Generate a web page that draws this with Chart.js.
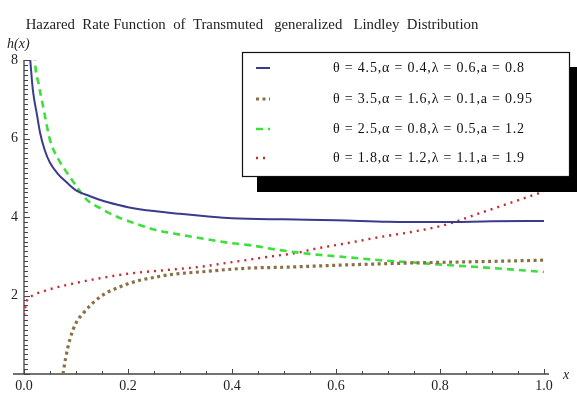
<!DOCTYPE html>
<html>
<head>
<meta charset="utf-8">
<script src="https://cdn.jsdelivr.net/npm/chart.js@4"></script>
<style>
html,body{margin:0;padding:0;background:#fff;}
canvas{display:block;}
</style>
</head>
<body>
<canvas id="c" width="577" height="394"></canvas>
<script>
// ---- data ----
const chartTitle = "Hazared  Rate Function  of  Transmuted   generalized   Lindley  Distribution";
const yAxisLabel = "h(x)";
const xAxisLabel = "x";
const seriesLabels = [
  "\u03B8 = 4.5,\u03B1 = 0.4,\u03BB = 0.6,a = 0.8",
  "\u03B8 = 3.5,\u03B1 = 1.6,\u03BB = 0.1,a = 0.95",
  "\u03B8 = 2.5,\u03B1 = 0.8,\u03BB = 0.5,a = 1.2",
  "\u03B8 = 1.8,\u03B1 = 1.2,\u03BB = 1.1,a = 1.9"
];
const xTicks = [0, 0.2, 0.4, 0.6, 0.8, 1.0];
const yTicks = [2, 4, 6, 8];

const s1X = [0.005,0.012,0.017,0.025,0.031,0.04,0.05,0.065,0.083,0.1,0.127,0.15,0.18,0.2,0.25,0.3,0.35,0.4,0.5,0.6,0.7,0.8,0.9,1.0];
const s1Y = [9.0,8.0,7.24,6.6,6.14,5.7,5.38,5.1,4.87,4.68,4.53,4.42,4.31,4.25,4.15,4.08,4.02,3.97,3.94,3.92,3.88,3.87,3.89,3.9];

const s2X = [0.075,0.08,0.088,0.1,0.114,0.13,0.146,0.16,0.179,0.2,0.223,0.25,0.275,0.3,0.338,0.4,0.435,0.5,0.6,0.75,0.9,1.0];
const s2Y = [0,0.4,0.87,1.3,1.55,1.78,1.96,2.08,2.19,2.3,2.39,2.46,2.52,2.56,2.6,2.67,2.7,2.72,2.77,2.83,2.87,2.9];

const s3X = [0.015,0.021,0.028,0.037,0.05,0.065,0.083,0.1,0.12,0.15,0.18,0.2,0.25,0.3,0.34,0.4,0.43,0.49,0.55,0.6,0.685,0.75,0.81,0.9,1.0];
const s3Y = [10,8.0,7.4,6.8,5.96,5.5,5.12,4.8,4.45,4.2,4.0,3.9,3.68,3.55,3.46,3.33,3.29,3.16,3.06,3.0,2.9,2.84,2.78,2.7,2.6];

const s4X = [0,0.005,0.017,0.04,0.083,0.146,0.21,0.275,0.338,0.4,0.467,0.53,0.556,0.62,0.685,0.75,0.81,0.877,0.94,1.0];
const s4Y = [1.5,1.85,2.0,2.12,2.27,2.44,2.57,2.65,2.73,2.85,2.98,3.1,3.18,3.33,3.49,3.63,3.8,4.1,4.38,4.65];

const seriesX = [s1X, s2X, s3X, s4X];
const seriesY = [s1Y, s2Y, s3Y, s4Y];
const colors = ["#3b3b8e", "#8a7045", "#3ddf3d", "#c8282f"];
const widths = [2, 3.2, 2.6, 2.4];
const dashes = [[], [3, 3.5], [7, 5], [2, 5]];

const SERIF = "'Liberation Serif', 'DejaVu Serif', serif";

const datasets = seriesLabels.map((lab, i) => ({
  label: lab,
  data: seriesX[i].map((x, k) => ({x: x, y: seriesY[i][k]})),
  borderColor: colors[i],
  backgroundColor: colors[i],
  borderWidth: widths[i],
  borderDash: dashes[i],
  borderCapStyle: 'butt',
  pointRadius: 0,
  fill: false,
  cubicInterpolationMode: 'monotone'
}));

// draws axes with inward ticks, texts and legend box
const decor = {
  id: 'decor',
  beforeDatasetsDraw(chart) {
    const ctx = chart.ctx;
    const xs = chart.scales.x, ys = chart.scales.y;
    const x0 = xs.getPixelForValue(0), y0 = ys.getPixelForValue(0);
    ctx.save();
    ctx.strokeStyle = '#444';
    ctx.lineWidth = 1.3;
    ctx.beginPath();
    ctx.moveTo(13, y0); ctx.lineTo(xs.getPixelForValue(1) + 5, y0);
    ctx.moveTo(x0, y0); ctx.lineTo(x0, ys.getPixelForValue(8));
    ctx.stroke();
    ctx.lineWidth = 1;
    ctx.beginPath();
    for (let v = 0; v <= 1.0001; v += 0.05) {
      const p = Math.round(xs.getPixelForValue(v)) + 0.5;
      const major = Math.abs(v / 0.2 - Math.round(v / 0.2)) < 1e-6;
      ctx.moveTo(p, y0); ctx.lineTo(p, y0 - (major ? 5 : 3));
    }
    for (let v = 0; v <= 8.0001; v += 0.125) {
      const p = Math.round(ys.getPixelForValue(v)) + 0.5;
      const major = Math.abs(v / 2 - Math.round(v / 2)) < 1e-6;
      ctx.moveTo(x0, p); ctx.lineTo(x0 + (major ? 6 : 4), p);
    }
    ctx.stroke();
    ctx.fillStyle = '#222';
    ctx.font = "14.8px " + SERIF;
    ctx.textAlign = 'center';
    ctx.textBaseline = 'middle';
    ctx.fillText(chartTitle, 252, 25);
    ctx.font = "italic 14px " + SERIF;
    ctx.textAlign = 'left';
    ctx.fillText(yAxisLabel, 7, 44);
    ctx.fillText(xAxisLabel, 563, 375);
    ctx.restore();
  },
  afterDatasetsDraw(chart) {
    const ctx = chart.ctx;
    ctx.save();
    ctx.fillStyle = '#000';
    ctx.fillRect(257, 67, 320, 125);
    ctx.fillStyle = '#fff';
    ctx.fillRect(242, 52, 328, 125);
    ctx.strokeStyle = '#111';
    ctx.lineWidth = 1.2;
    ctx.strokeRect(242.5, 52.5, 327, 124);
    const rows = [68, 99, 129, 158];
    chart.data.datasets.forEach((ds, i) => {
      const y = rows[i];
      ctx.strokeStyle = ds.borderColor;
      ctx.lineWidth = ds.borderWidth;
      ctx.setLineDash(ds.borderDash);
      ctx.beginPath();
      ctx.moveTo(256, y); ctx.lineTo(270, y);
      ctx.stroke();
      ctx.setLineDash([]);
      ctx.fillStyle = '#111';
      ctx.font = "14px " + SERIF;
      ctx.letterSpacing = '0.8px';
      ctx.textAlign = 'left';
      ctx.textBaseline = 'middle';
      ctx.fillText(ds.label, 333, y);
      ctx.letterSpacing = '0px';
    });
    ctx.restore();
  }
};

new Chart(document.getElementById('c'), {
  type: 'line',
  data: { datasets: datasets },
  options: {
    responsive: false,
    devicePixelRatio: 1,
    animation: false,
    layout: { padding: { left: 0, right: 33, top: 60, bottom: 0 } },
    plugins: { legend: { display: false }, title: { display: false }, tooltip: { enabled: false } },
    scales: {
      x: {
        type: 'linear', min: 0, max: 1,
        border: { display: false },
        grid: { display: false, drawTicks: false },
        afterBuildTicks: s => { s.ticks = xTicks.map(v => ({value: v})); },
        afterFit: s => { s.height = 20; },
        ticks: {
          padding: 4, maxRotation: 0, autoSkip: false,
          color: '#222', font: { family: SERIF, size: 14 },
          callback: v => Number(v).toFixed(1)
        }
      },
      y: {
        type: 'linear', min: 0, max: 8,
        border: { display: false },
        grid: { display: false, drawTicks: false },
        afterBuildTicks: s => { s.ticks = yTicks.map(v => ({value: v})); },
        afterFit: s => { s.width = 24; },
        ticks: {
          padding: 6, color: '#222', font: { family: SERIF, size: 14 },
          callback: v => String(v)
        }
      }
    }
  },
  plugins: [decor]
});
</script>
</body>
</html>
